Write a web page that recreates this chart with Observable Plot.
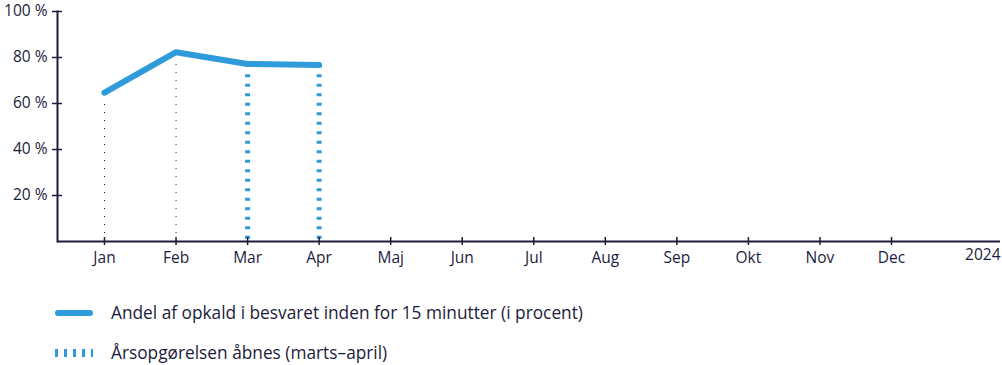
<!DOCTYPE html>
<html><head><meta charset="utf-8">
<script src="https://cdn.jsdelivr.net/npm/d3@7"></script>
<script src="https://cdn.jsdelivr.net/npm/@observablehq/plot@0.6"></script>
<style>
body{margin:0;background:#fff;font-family:"Open Sans","Noto Sans",sans-serif;color:#1c1c3c;}
#legend{position:relative;height:87px;font-size:17.3px;}
.item{position:absolute;left:55px;display:flex;align-items:center;}
.item span{margin-left:18px;}
</style></head><body>
<div id="chart"></div>
<div id="legend"></div>
<script>
const months = ["Jan","Feb","Mar","Apr","Maj","Jun","Jul","Aug","Sep","Okt","Nov","Dec"];
const valueMonths = ["Jan","Feb","Mar","Apr"];
const values = [64.7, 82.3, 77.2, 76.7];
const dottedMonths = ["Jan","Feb"];
const dashedMonths = ["Mar","Apr"];
const yTicks = [20,40,60,80,100];
const yearLabel = "2024";
const seriesLabel = "Andel af opkald i besvaret inden for 15 minutter (i procent)";
const periodLabel = "Årsopgørelsen åbnes (marts–april)";

const blue = "#2f9bdb";
const ink = "#1c1c3c";
const fs = 15.5;
const data = valueMonths.map((m,i)=>({month:m, value:values[i]}));
const dotted = data.filter(d=>dottedMonths.includes(d.month));
const dashed = data.filter(d=>dashedMonths.includes(d.month));

const plot = Plot.plot({
  width: 1002, height: 278,
  marginLeft: 57, marginRight: 2, marginTop: 11, marginBottom: 37,
  style: {fontFamily: "'Open Sans', 'Noto Sans', sans-serif", color: ink, overflow: "visible"},
  x: {type: "point", domain: months, range: [104, 891], padding: 0, round: false},
  y: {domain: [0, 100]},
  marks: [
    Plot.ruleX(dotted, {x: "month", y1: 0, y2: d=>d.value-3, stroke: ink, strokeWidth: 1, strokeDasharray: "1,7"}),
    Plot.ruleX(dashed, {x: "month", y1: 1, y2: d=>d.value-2.5, stroke: blue, strokeWidth: 5, strokeDasharray: "3,6.5"}),
    Plot.lineY(data, {x: "month", y: "value", stroke: blue, strokeWidth: 6, strokeLinecap: "round", strokeLinejoin: "round"}),
    Plot.ruleY([0], {stroke: ink, strokeWidth: 2}),
    Plot.frame({anchor: "left", stroke: ink, strokeWidth: 2}),
    Plot.axisY({ticks: yTicks, tickFormat: d=>d+" %", tickSize: 10, tickPadding: 5, dx: 5, stroke: ink, strokeWidth: 1.5, fontSize: fs, label: null}),
    Plot.axisX({tickSize: 8, dy: -4, tickPadding: 6, stroke: ink, strokeWidth: 1.5, fontSize: fs, label: null}),
    Plot.text([yearLabel], {frameAnchor: "bottom-right", text: d=>d, dy: 18, textAnchor: "end", fill: ink, fontSize: fs})
  ]
});
document.getElementById("chart").appendChild(plot);

const legend = document.getElementById("legend");
legend.innerHTML = `
<div class="item" style="top:23px">
 <svg width="38" height="10"><line x1="3" y1="5" x2="35" y2="5" stroke="${blue}" stroke-width="6" stroke-linecap="round"/></svg>
 <span>${seriesLabel}</span></div>
<div class="item" style="top:63px">
 <svg width="38" height="10"><line x1="0" y1="5" x2="38" y2="5" stroke="${blue}" stroke-width="8" stroke-dasharray="3,6"/></svg>
 <span>${periodLabel}</span></div>`;
</script>
</body></html>
